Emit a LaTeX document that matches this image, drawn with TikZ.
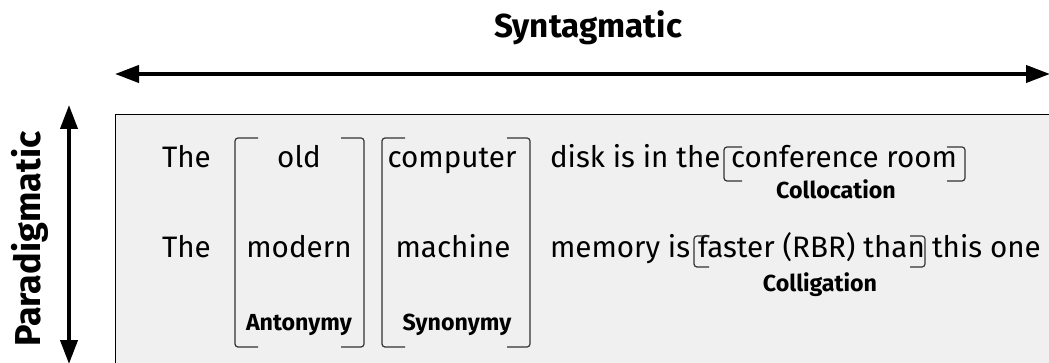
\documentclass[tikz,border=0pt]{standalone}
\usepackage{fontspec}
\setmainfont{Fira Sans}
\usetikzlibrary{arrows.meta}

\definecolor{boxgray}{HTML}{F0F0F0}
\definecolor{brkgray}{HTML}{333333}

\tikzset{
	word/.style={font=\fontsize{14.8}{17}\selectfont,inner sep=0,outer sep=0},
	tag/.style={font=\bfseries\fontsize{11.6}{13}\selectfont,inner sep=0,outer sep=0},
	axis/.style={line width=2pt,{Triangle[length=12pt,width=8.5pt]}-{Triangle[length=12pt,width=8.5pt]}},
	brk/.style={draw=brkgray,line width=0.6pt,rounded corners=1.5pt}
}

\begin{document}
\begin{tikzpicture}[x=0.5pt,y=-0.5pt]
	\useasboundingbox (0,0) rectangle (1049,363);
	\draw[fill=boxgray,line width=0.5pt] (115,115) rectangle (1070,380);
	% axes
	\node[font=\bfseries\fontsize{16.6}{19}\selectfont,inner sep=0,anchor=base] (syn) at (588,38) {Syntagmatic};
	\coordinate (synL) at (115,74);
	\coordinate (synR) at (1050,74);
	\draw[axis] (synL) -- (synR);
	\node[font=\bfseries\fontsize{18}{21}\selectfont,inner sep=0,rotate=90,anchor=base] (par) at (40,239) {Paradigmatic};
	\coordinate (parT) at (69,105);
	\coordinate (parB) at (69,364);
	\draw[axis] (parT) -- (parB);
	% first row
	\node[word,anchor=base west] (the1) at (162,168) {The};
	\node[word,anchor=base] (old) at (299,168) {old};
	\node[word,anchor=base] (computer) at (452,168) {computer};
	\node[word,anchor=base west] (disk) at (550,168) {disk is in the};
	\node[word,anchor=base west] (room) at (731,168) {conference room};
	\node[tag,anchor=base] (colloc) at (836,199) {Collocation};
	% second row
	\node[word,anchor=base west] (the2) at (162,257) {The};
	\node[word,anchor=base] (modern) at (299,257) {modern};
	\node[word,anchor=base] (machine) at (453,257) {machine};
	\node[word,anchor=base west] (memory) at (550,257) {memory is};
	\node[word,anchor=base west] (faster) at (698,257) {faster (RBR) than};
	\node[word,anchor=base west] (thisone) at (932,257) {this one};
	\node[tag,anchor=base] (collig) at (820,292) {Colligation};
	% labels under the columns
	\node[tag,anchor=base] (anto) at (299,330) {Antonymy};
	\node[tag,anchor=base] (syno) at (457,330) {Synonymy};
	% brackets
	\foreach \l/\r/\t/\b/\k in {235/364/138/347/23, 382/530/138/347/23, 724/965/147/181/18, 694/925/236/267/15}{
		\draw[brk] (\l+\k,\t) -| (\l,\b) -- (\l+\k,\b);
		\draw[brk] (\r-\k,\t) -| (\r,\b) -- (\r-\k,\b);
	}
\end{tikzpicture}
\end{document}
